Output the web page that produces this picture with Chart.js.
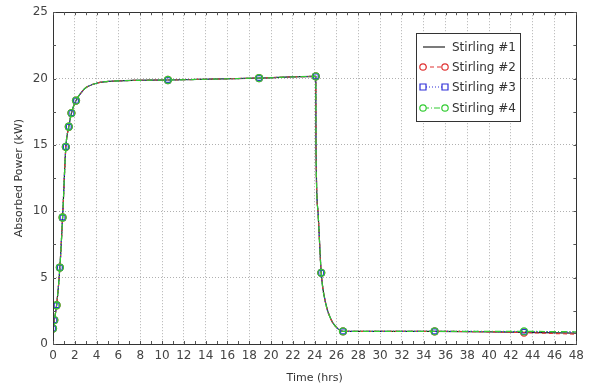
<!DOCTYPE html>
<html><head><meta charset="utf-8">
<script src="https://cdn.jsdelivr.net/npm/chart.js@4/dist/chart.umd.min.js"></script>
<style>html,body{margin:0;padding:0;background:#fff}#wrap{width:589px;height:387px;position:relative}</style>
</head><body><div id="wrap"><canvas id="c"></canvas></div>
<script>
const timeHrs   = [0, 0.12, 0.33, 0.63, 0.88, 1.18, 1.45, 1.69, 2.11, 2.6, 3, 4, 6, 10.54, 18.9, 24.1, 24.12, 24.3, 24.6, 25, 25.5, 26, 26.6, 30, 35, 40, 43.2, 48];
const stirling1 = [1.17, 1.8, 2.92, 5.76, 9.53, 14.85, 16.37, 17.4, 18.34, 18.95, 19.3, 19.65, 19.82, 19.89, 20.04, 20.16, 15.0, 10.0, 5.36, 3.1, 1.85, 1.25, 0.95, 0.95, 0.95, 0.92, 0.88, 0.82];
const stirling2 = [1.17, 1.8, 2.92, 5.76, 9.53, 14.85, 16.37, 17.4, 18.34, 18.95, 19.3, 19.65, 19.82, 19.89, 20.04, 20.16, 15.0, 10.0, 5.36, 3.1, 1.85, 1.25, 0.95, 0.95, 0.95, 0.92, 0.86, 0.74];
const stirling3 = [1.17, 1.8, 2.92, 5.76, 9.53, 14.85, 16.37, 17.4, 18.34, 18.95, 19.3, 19.65, 19.82, 19.89, 20.04, 20.16, 15.0, 10.0, 5.36, 3.1, 1.85, 1.25, 0.95, 0.95, 0.95, 0.94, 0.92, 0.9];
const stirling4 = [1.17, 1.8, 2.92, 5.76, 9.53, 14.85, 16.37, 17.4, 18.34, 18.95, 19.3, 19.65, 19.82, 19.89, 20.04, 20.16, 15.0, 10.0, 5.36, 3.1, 1.85, 1.25, 0.95, 0.95, 0.95, 0.95, 0.95, 0.92];
const markerTimes = [0, 0.12, 0.33, 0.63, 0.88, 1.18, 1.45, 1.69, 2.11, 10.54, 18.9, 24.1, 24.6, 26.6, 35, 43.2];
const seriesLabels = ['Stirling #1', 'Stirling #2', 'Stirling #3', 'Stirling #4'];
const xTicks = {min: 0, max: 48, step: 2};
const yTicks = {min: 0, max: 25, step: 5};

const FONT = 'DejaVu Sans';
const styles = [
  {color: '#222222', dash: [], marker: false, pointStyle: 'circle', order: 3},
  {color: '#e03434', dash: [4, 3], marker: true, pointStyle: 'circle', order: 2},
  {color: '#3030d8', dash: [1, 2], marker: true, pointStyle: 'rect', order: 1},
  {color: '#33cc33', dash: [6, 2, 1, 2], marker: true, pointStyle: 'circle', order: 0}
];
const seriesData = [stirling1, stirling2, stirling3, stirling4];
const radii = timeHrs.map(t => markerTimes.includes(t) ? 3.5 : 0);

const datasets = seriesData.map((vals, i) => ({
  label: seriesLabels[i],
  data: timeHrs.map((t, j) => ({x: t, y: vals[j]})),
  order: styles[i].order,
  borderColor: styles[i].color,
  borderWidth: 1.2,
  borderDash: styles[i].dash,
  backgroundColor: 'rgba(0,0,0,0)',
  pointStyle: styles[i].pointStyle,
  pointRadius: styles[i].marker ? radii : 0,
  pointBorderWidth: 1.3,
  pointBorderColor: styles[i].color,
  pointBackgroundColor: 'rgba(0,0,0,0)',
  cubicInterpolationMode: 'monotone',
  fill: false
}));

const framePlugin = {
  id: 'frame',
  afterDraw(chart) {
    const {ctx, chartArea: a, scales} = chart;
    ctx.save();
    ctx.strokeStyle = '#333';
    ctx.lineWidth = 1;
    ctx.setLineDash([]);
    ctx.strokeRect(Math.round(a.left) + 0.5, Math.round(a.top) + 0.5, Math.round(a.right - a.left), Math.round(a.bottom - a.top));
    ctx.strokeStyle = '#555';
    ctx.beginPath();
    for (let v = xTicks.min; v <= xTicks.max; v += 1) {
      const px = Math.round(scales.x.getPixelForValue(v)) + 0.5;
      ctx.moveTo(px, a.bottom); ctx.lineTo(px, a.bottom - 3);
      ctx.moveTo(px, a.top); ctx.lineTo(px, a.top + 3);
    }
    for (let v = yTicks.min; v <= yTicks.max; v += 2.5) {
      const py = Math.round(scales.y.getPixelForValue(v)) + 0.5;
      ctx.moveTo(a.left, py); ctx.lineTo(a.left + 3, py);
      ctx.moveTo(a.right, py); ctx.lineTo(a.right - 3, py);
    }
    ctx.stroke();
    const bx = 416.5, by = 33.5, bw = 104, bh = 88;
    ctx.fillStyle = '#fff';
    ctx.fillRect(bx, by, bw, bh);
    ctx.strokeStyle = '#333';
    ctx.strokeRect(bx, by, bw, bh);
    const rows = [47, 67, 87, 108];
    ctx.font = '12px "' + FONT + '"';
    ctx.textBaseline = 'middle';
    chart.data.datasets.forEach((ds, i) => {
      const y = rows[i];
      const st = styles[i];
      ctx.strokeStyle = st.color;
      ctx.lineWidth = 1.2;
      ctx.setLineDash(st.dash);
      ctx.beginPath();
      ctx.moveTo(423, y); ctx.lineTo(445, y);
      ctx.stroke();
      ctx.setLineDash([]);
      if (st.marker) {
        [423, 445].forEach(mx => {
          ctx.beginPath();
          if (st.pointStyle === 'rect') ctx.rect(mx - 3, y - 3, 6, 6);
          else ctx.arc(mx, y, 3.2, 0, Math.PI * 2);
          ctx.fillStyle = '#fff';
          ctx.fill();
          ctx.stroke();
        });
      }
      ctx.fillStyle = '#333';
      ctx.fillText(ds.label, 452, y + 0.5);
    });
    ctx.restore();
  }
};

new Chart(document.getElementById('c'), {
  type: 'line',
  data: {datasets},
  options: {
    responsive: true,
    maintainAspectRatio: false,
    animation: false,
    devicePixelRatio: 1,
    layout: {padding: {top: 10, right: 6, left: 0, bottom: 0}},
    plugins: {legend: {display: false}, tooltip: {enabled: false}},
    scales: {
      x: {
        type: 'linear', min: xTicks.min, max: xTicks.max,
        ticks: {stepSize: xTicks.step, color: '#444', font: {family: FONT, size: 12}, padding: 5, maxRotation: 0, autoSkip: false},
        grid: {color: '#b0b0b0', lineWidth: 1, drawTicks: false},
        border: {display: false, dash: [1, 2]},
        title: {display: true, text: 'Time (hrs)', color: '#333', font: {family: FONT, size: 11}, padding: {top: 4, bottom: 2}},
        afterFit(s) { s.height = 43; }
      },
      y: {
        min: yTicks.min, max: yTicks.max,
        ticks: {stepSize: yTicks.step, color: '#444', font: {family: FONT, size: 12}, padding: 5},
        grid: {color: '#b0b0b0', lineWidth: 1, drawTicks: false},
        border: {display: false, dash: [1, 2]},
        title: {display: true, text: 'Absorbed Power (kW)', color: '#333', font: {family: FONT, size: 11}, padding: {top: 13, bottom: 0}},
        afterFit(s) { s.width = 53; }
      }
    }
  },
  plugins: [framePlugin]
});
</script>
</body></html>
